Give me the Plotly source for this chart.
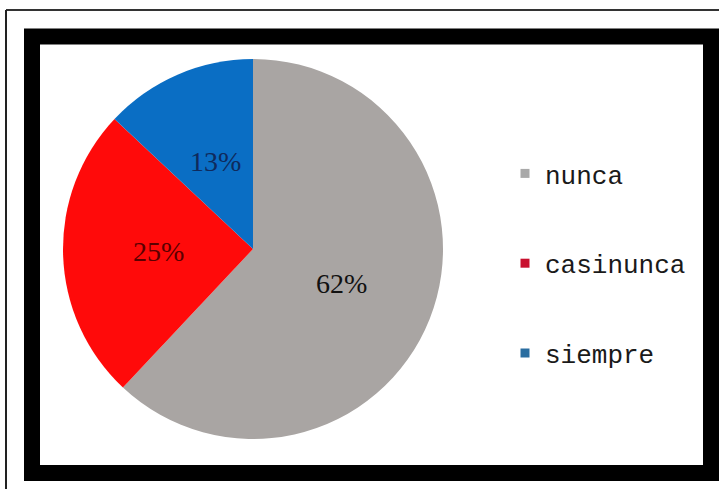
import math
import plotly.graph_objects as go

# ---- data ----
categories = ["nunca", "casinunca", "siempre"]
values = [62, 25, 13]
slice_colors = ["#A9A5A3", "#FF0A0A", "#0A6EC4"]
label_colors = ["#111111", "#5A0000", "#0F2A5C"]
legend_colors = ["#A9A9A9", "#C8102E", "#2A6DA0"]

W, H = 719, 489
CX, CY, R = 253, 249, 190   # pie placement in pixels

fig = go.Figure()

fig.add_trace(go.Pie(
    labels=categories,
    values=values,
    sort=False,
    direction="clockwise",
    rotation=0,
    marker=dict(colors=slice_colors, line=dict(width=0)),
    textinfo="none",
    showlegend=False,
    hoverinfo="label+percent",
    domain=dict(x=[(CX - R) / W, (CX + R) / W], y=[1 - (CY + R) / H, 1 - (CY - R) / H]),
))

# percentage labels placed at half radius on each slice bisector
total = sum(values)
annotations = []
cum = 0.0
for v, c in zip(values, label_colors):
    mid = (cum + v / 2) / total * 2 * math.pi
    cum += v
    annotations.append(dict(
        x=CX + 0.5 * R * math.sin(mid), y=CY - 0.5 * R * math.cos(mid),
        xref="x", yref="y", showarrow=False,
        text=f"{round(100 * v / total)}%",
        font=dict(family="Liberation Serif", size=28, color=c),
    ))

# legend entries (one group each so that spacing can be set)
for name, col in zip(categories, legend_colors):
    fig.add_trace(go.Scatter(
        x=[None], y=[None], mode="markers", name=name,
        legendgroup=name,
        marker=dict(symbol="square", size=9, color=col),
        hoverinfo="skip",
    ))

shapes = [
    # thick black frame
    dict(type="rect", x0=32, x1=711, y0=36.5, y1=473,
         line=dict(color="black", width=16), fillcolor="rgba(0,0,0,0)"),
    # thin outer lines
    dict(type="line", x0=6, x1=W, y0=10, y1=10, line=dict(color="#333333", width=2)),
    dict(type="line", x0=6, x1=6, y0=10, y1=H, line=dict(color="#222222", width=2)),
]

fig.update_layout(
    width=W, height=H,
    margin=dict(l=0, r=0, t=0, b=0),
    paper_bgcolor="white",
    plot_bgcolor="rgba(0,0,0,0)",
    xaxis=dict(range=[0, W], visible=False, fixedrange=True),
    yaxis=dict(range=[H, 0], visible=False, fixedrange=True),
    shapes=shapes,
    annotations=annotations,
    legend=dict(
        x=505 / W, y=1 - 150 / H, xanchor="left", yanchor="top",
        font=dict(family="Liberation Mono", size=26, color="#1a1a1a"),
        tracegroupgap=53, itemwidth=30,
        bgcolor="rgba(0,0,0,0)",
    ),
    showlegend=True,
)

fig.write_html(
    "out.html",
    config={"displayModeBar": False},
    post_script="document.body.style.margin='0';document.body.style.overflow='hidden';",
)
